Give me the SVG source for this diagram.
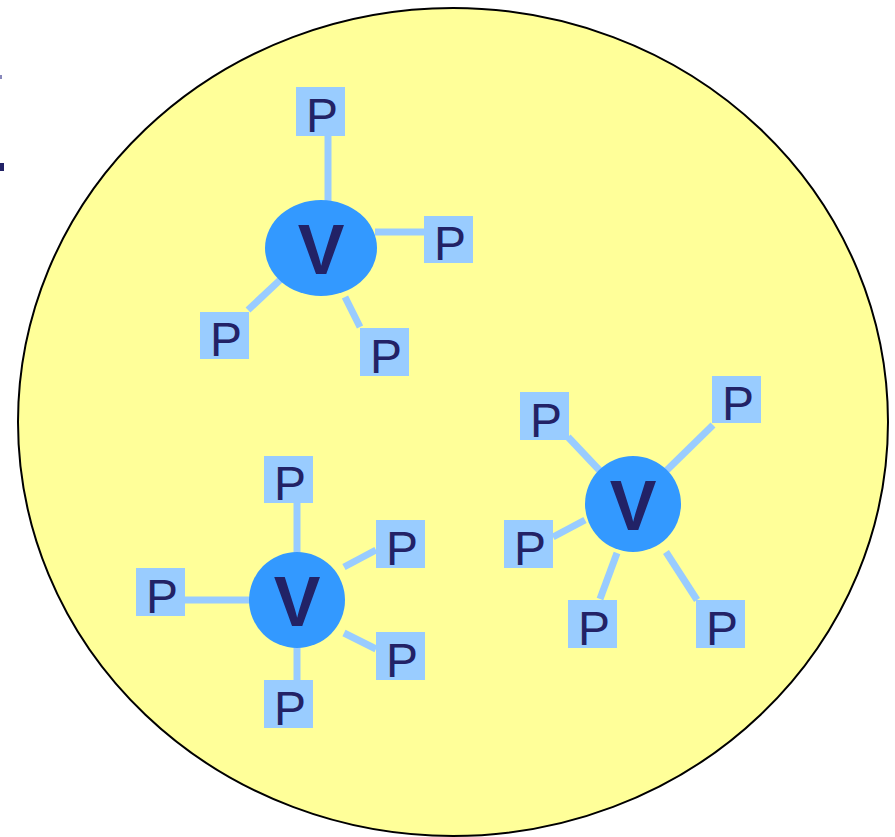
<svg xmlns="http://www.w3.org/2000/svg" width="895" height="837" viewBox="0 0 895 837">
<style>
.bg{fill:#FFFF99;stroke:#000;stroke-width:2}
.v{fill:#3399FF}
.vt{font-family:"Liberation Sans",Arial,sans-serif;font-weight:bold;font-size:70px;fill:#222266;text-anchor:middle}
.pb{fill:#99CCFF}
.pt{font-family:"Liberation Sans",Arial,sans-serif;font-size:48px;fill:#222266;text-anchor:middle}
.c line{stroke:#99CCFF;stroke-width:7}
</style>
<rect width="895" height="837" fill="#fff"/>
<rect x="0" y="75" width="2" height="4" fill="#8888bb"/>
<rect x="0" y="163" width="4" height="8" fill="#222266"/>
<ellipse class="bg" cx="453" cy="422" rx="435" ry="414"/>
<g id="connectors" class="c">
<line x1="328" y1="136" x2="328" y2="202"/>
<line x1="375" y1="232" x2="424" y2="232"/>
<line x1="280" y1="280" x2="248" y2="310"/>
<line x1="345" y1="297" x2="360" y2="327"/>
<line x1="568" y1="437" x2="602" y2="473"/>
<line x1="713" y1="425" x2="666" y2="471"/>
<line x1="553" y1="537" x2="585" y2="520"/>
<line x1="617" y1="553" x2="600" y2="599"/>
<line x1="666" y1="552" x2="697" y2="600"/>
<line x1="297" y1="503" x2="297" y2="554"/>
<line x1="185" y1="600" x2="251" y2="600"/>
<line x1="344" y1="567" x2="376" y2="550"/>
<line x1="344" y1="633" x2="376" y2="649"/>
<line x1="297" y1="646" x2="297" y2="680"/>
</g>
<g id="v1"><ellipse class="v" cx="321" cy="248" rx="56" ry="48"/><text class="vt" x="321" y="274">V</text></g>
<g id="v2"><circle class="v" cx="633" cy="504" r="48"/><text class="vt" x="633" y="530">V</text></g>
<g id="v3"><circle class="v" cx="297" cy="600" r="48"/><text class="vt" x="297" y="626">V</text></g>
<g id="p1a"><rect class="pb" x="296" y="87" width="49" height="49"/><text class="pt" x="322" y="132">P</text></g>
<g id="p1b"><rect class="pb" x="424" y="216" width="49" height="47"/><text class="pt" x="450" y="260">P</text></g>
<g id="p1c"><rect class="pb" x="200" y="312" width="49" height="47"/><text class="pt" x="226" y="356">P</text></g>
<g id="p1d"><rect class="pb" x="360" y="328" width="49" height="48"/><text class="pt" x="386" y="373">P</text></g>
<g id="p2a"><rect class="pb" x="520" y="392" width="49" height="48"/><text class="pt" x="546" y="437">P</text></g>
<g id="p2b"><rect class="pb" x="712" y="376" width="49" height="47"/><text class="pt" x="738" y="420">P</text></g>
<g id="p2c"><rect class="pb" x="504" y="520" width="49" height="48"/><text class="pt" x="530" y="565">P</text></g>
<g id="p2d"><rect class="pb" x="568" y="600" width="49" height="48"/><text class="pt" x="594" y="645">P</text></g>
<g id="p2e"><rect class="pb" x="696" y="600" width="49" height="48"/><text class="pt" x="722" y="645">P</text></g>
<g id="p3a"><rect class="pb" x="264" y="456" width="49" height="47"/><text class="pt" x="290" y="500">P</text></g>
<g id="p3b"><rect class="pb" x="376" y="520" width="49" height="48"/><text class="pt" x="402" y="565">P</text></g>
<g id="p3c"><rect class="pb" x="136" y="568" width="49" height="48"/><text class="pt" x="162" y="613">P</text></g>
<g id="p3d"><rect class="pb" x="376" y="632" width="49" height="48"/><text class="pt" x="402" y="677">P</text></g>
<g id="p3e"><rect class="pb" x="264" y="680" width="49" height="48"/><text class="pt" x="290" y="725">P</text></g>
</svg>
